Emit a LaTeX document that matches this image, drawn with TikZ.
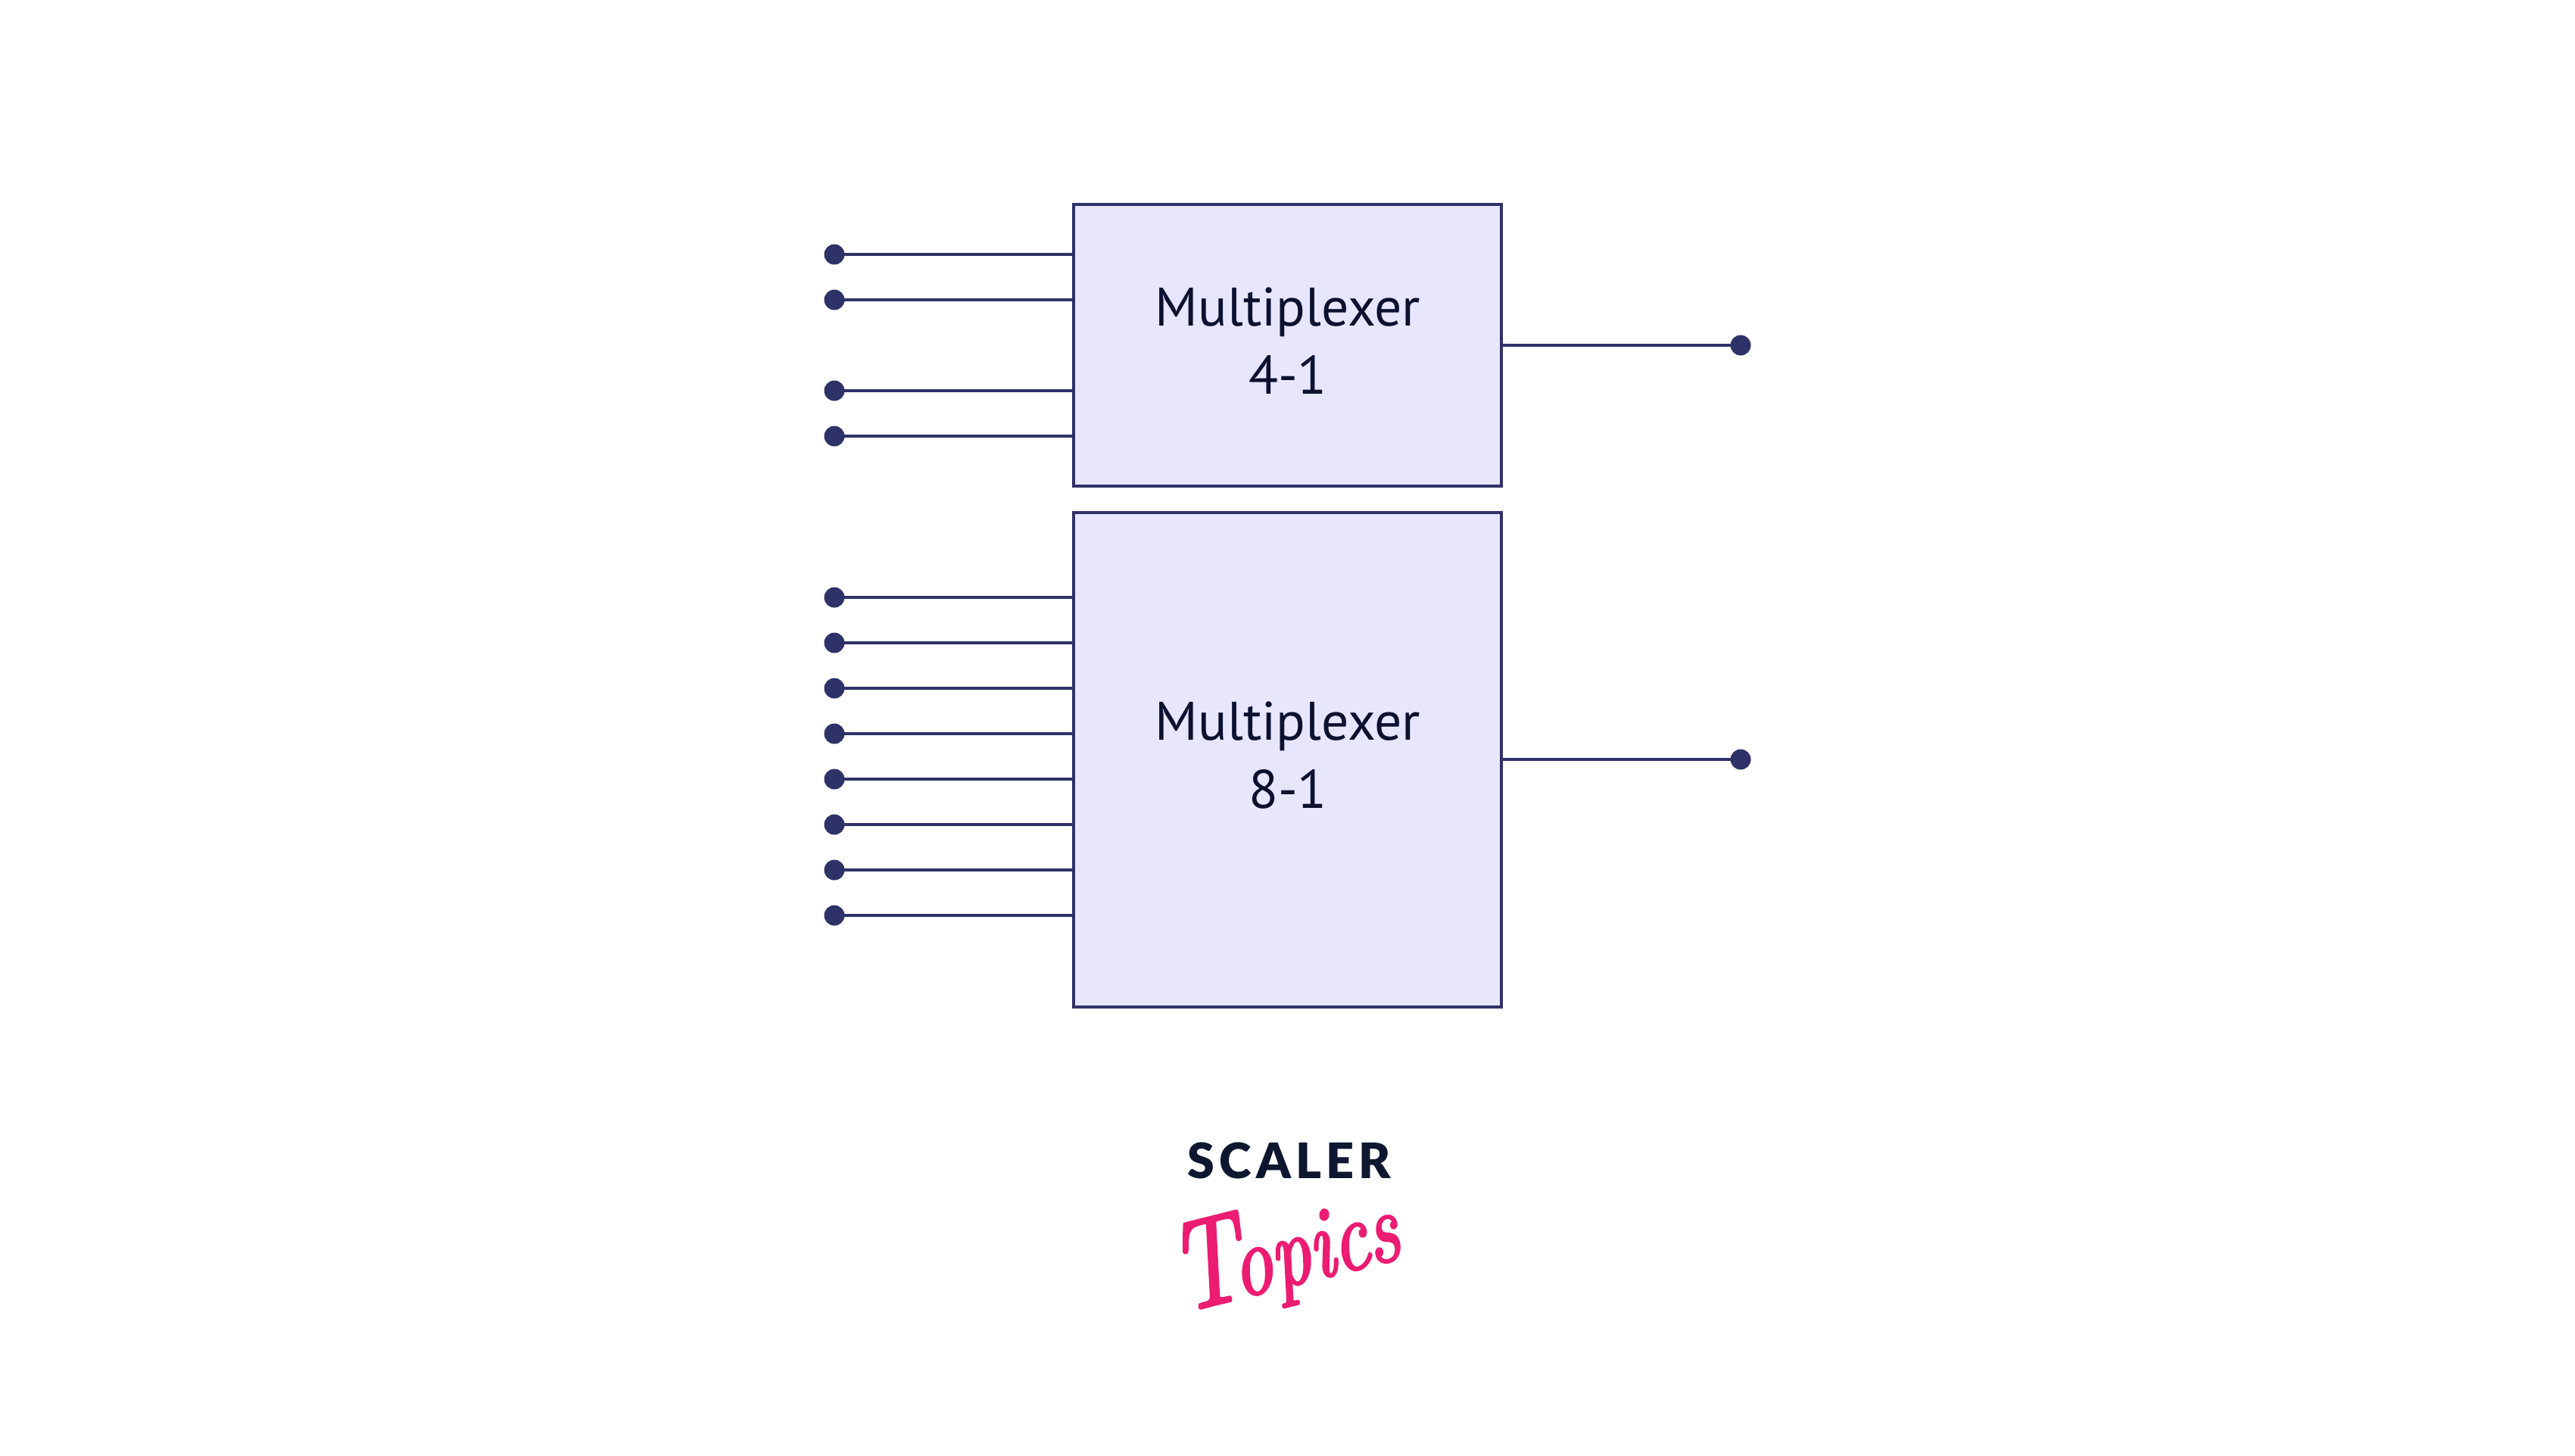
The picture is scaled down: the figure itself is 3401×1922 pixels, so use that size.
\documentclass[tikz,border=0pt]{standalone}
\usepackage{fontspec}
\setmainfont{PT Sans}
\newfontfamily\scalerfont[LetterSpace=9.5]{Lato Black}
\newfontfamily\topicsfont[ItalicFeatures={FakeBold=2.4,FakeStretch=0.78}]{Latin Modern Roman}
\definecolor{ink}{HTML}{2F3268}
\definecolor{boxfill}{HTML}{E7E6FD}
\definecolor{labelink}{HTML}{0C1130}
\definecolor{logoink}{HTML}{0D1730}
\definecolor{logopink}{HTML}{EC1C72}
\tikzset{
  muxbox/.style={draw=ink,fill=boxfill,line width=0.96pt,rectangle,inner sep=0pt,outer sep=0pt,minimum width=135.6pt},
  muxlabel/.style={text=labelink,align=center,inner sep=0pt,font=\fontsize{17.2pt}{21.6pt}\selectfont},
  pin/.style={circle,fill=ink,inner sep=0pt,outer sep=0pt,minimum size=6.48pt},
  wire/.style={draw=ink,line width=0.96pt}
}
\begin{document}
\begin{tikzpicture}[x=0.24pt,y=-0.24pt]
\useasboundingbox[fill=white] (0,0) rectangle (3401,1922);
\node[muxbox,minimum height=89.28pt] (boxA) at (1700.5,456) {};
\node[muxbox,minimum height=156.72pt] (boxB) at (1700.5,1003) {};
\node[muxlabel] (labelA) at (1701,450.5) {Multiplexer\\4-1};
\node[muxlabel] (labelB) at (1701,998) {Multiplexer\\8-1};
\foreach \n/\y in {1/336,2/396,3/516,4/576}{
  \node[pin] (a\n) at (1102,\y) {};
  \draw[wire] (a\n.center) -- (a\n.center -| boxA.west);
}
\foreach \n/\y in {1/789,2/849,3/909,4/969,5/1029,6/1089,7/1149,8/1209}{
  \node[pin] (b\n) at (1102,\y) {};
  \draw[wire] (b\n.center) -- (b\n.center -| boxB.west);
}
\node[pin] (outA) at (2299,456) {};
\node[pin] (outB) at (2299,1003) {};
\draw[wire] (boxA.east) -- (outA.center);
\draw[wire] (boxB.east) -- (outB.center);
\node[anchor=base,inner sep=0pt,text=logoink,font=\scalerfont\fontsize{15.5pt}{18pt}\selectfont] (scaler) at (1703,1556) {SCALER};
\node[anchor=center,inner sep=0pt,rotate=14,text=logopink,font=\topicsfont\itshape\fontsize{32pt}{34pt}\selectfont] (topics) at (1697,1655) {{\fontsize{40pt}{40pt}\selectfont T}\kern-3pt opics};
\end{tikzpicture}
\end{document}
